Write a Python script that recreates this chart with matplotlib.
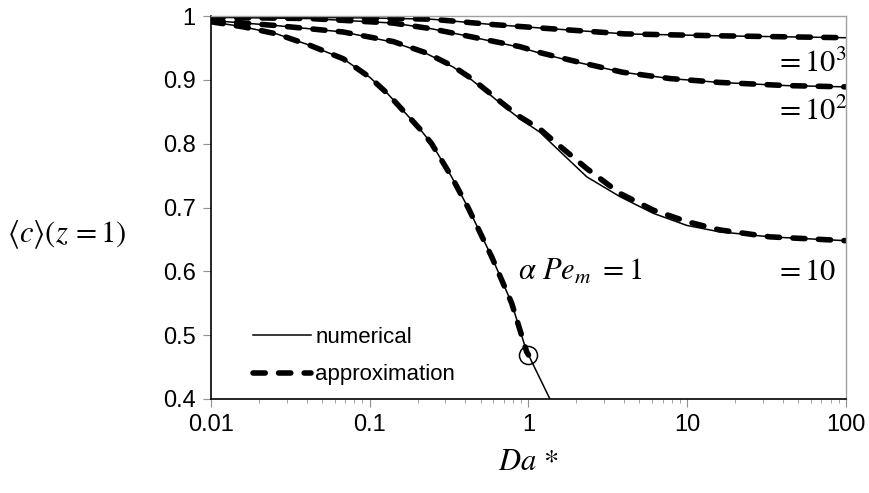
import matplotlib
matplotlib.use("Agg")
import matplotlib.pyplot as plt

plt.rcParams['font.family'] = ['Liberation Sans', 'DejaVu Sans']
plt.rcParams['mathtext.fontset'] = 'stix'

# Da* values and <c>(z=1), one set per alpha*Pe_m
da_pe1 = [0.01, 0.016, 0.0259, 0.0421, 0.0681, 0.1, 0.13, 0.184, 0.207, 0.2455,
          0.328, 0.418, 0.586, 0.784, 0.974, 1.0]
c_pe1_num = [0.991, 0.983, 0.972, 0.954, 0.933, 0.904, 0.878, 0.837, 0.823, 0.800,
             0.748, 0.699, 0.623, 0.550, 0.474, 0.469]
c_pe1_app = [0.991, 0.983, 0.972, 0.954, 0.933, 0.904, 0.878, 0.837, 0.823, 0.800,
             0.748, 0.699, 0.623, 0.550, 0.474, 0.469]
# numerical solution for alpha*Pe_m = 1 carries on below the circle
da_pe1_tail = [1.0, 1.365]
c_pe1_tail = [0.469, 0.400]

da_pe10 = [0.01, 0.0259, 0.068, 0.1406, 0.2285, 0.336, 0.438, 0.546, 0.712, 0.884,
           1.18, 1.43, 2.33, 3.77, 6.1, 9.92, 15.9, 33.2, 100]
c_pe10_num = [0.993, 0.985, 0.975, 0.959, 0.941, 0.920, 0.900, 0.881, 0.857, 0.839,
              0.818, 0.798, 0.748, 0.717, 0.691, 0.672, 0.662, 0.654, 0.648]
c_pe10_app = [0.993, 0.985, 0.975, 0.960, 0.942, 0.921, 0.902, 0.883, 0.860, 0.842,
              0.823, 0.805, 0.761, 0.722, 0.696, 0.678, 0.665, 0.654, 0.648]

da_pe100 = [0.01, 0.0421, 0.14, 0.2455, 0.388, 0.884, 1.21, 1.826, 3.9, 7.8, 15.9, 42.3, 100]
c_pe100_num = [0.998, 0.996, 0.989, 0.980, 0.970, 0.951, 0.941, 0.930, 0.912, 0.902,
               0.896, 0.891, 0.889]
c_pe100_app = [0.998, 0.996, 0.989, 0.980, 0.970, 0.952, 0.942, 0.931, 0.912, 0.902,
               0.896, 0.891, 0.889]

da_pe1000 = [0.01, 0.1, 0.2455, 0.572, 1.23, 4.06, 15.9, 100]
c_pe1000_num = [0.999, 0.997, 0.995, 0.987, 0.981, 0.972, 0.969, 0.966]
c_pe1000_app = [0.999, 0.997, 0.995, 0.987, 0.981, 0.972, 0.969, 0.966]

fig = plt.figure(figsize=(8.69, 4.93), dpi=100)
ax = fig.add_axes([0.2428, 0.1907, 0.7307, 0.7768])

dash_kw = dict(color='black', lw=4.0, dashes=(2.2, 2.4), dash_capstyle='round')
num_kw = dict(color='black', lw=1.1)

curves = [(da_pe1, c_pe1_num, c_pe1_app),
          (da_pe10, c_pe10_num, c_pe10_app),
          (da_pe100, c_pe100_num, c_pe100_app),
          (da_pe1000, c_pe1000_num, c_pe1000_app)]

for i, (da, cn, ca) in enumerate(curves):
    ax.plot(da, cn, label='numerical' if i == 0 else None, **num_kw)
    ax.plot(da, ca, label='approximation' if i == 0 else None, **dash_kw)
ax.plot(da_pe1_tail, c_pe1_tail, **num_kw)

# where the approximation for alpha*Pe_m = 1 stops
ax.plot([da_pe1[-1]], [c_pe1_app[-1]], marker='o', ms=13, mfc='none', mec='black', mew=1.1)

ax.set_xscale('log')
ax.set_xlim(0.01, 100)
ax.set_ylim(0.4, 1.0)
ax.set_xticks([0.01, 0.1, 1, 10, 100])
ax.set_xticklabels(['0.01', '0.1', '1', '10', '100'])
ax.set_yticks([0.4, 0.5, 0.6, 0.7, 0.8, 0.9, 1.0])
ax.set_yticklabels(['0.4', '0.5', '0.6', '0.7', '0.8', '0.9', '1'])
ax.tick_params(axis='both', which='major', labelsize=17, color='#909090', length=6,
               direction='out', pad=5)
ax.tick_params(axis='x', which='minor', color='#909090', length=3, direction='out')

for s in ['top', 'right']:
    ax.spines[s].set_color('#a0a0a0')
    ax.spines[s].set_linewidth(1.0)
for s in ['left', 'bottom']:
    ax.spines[s].set_color('black')
    ax.spines[s].set_linewidth(1.2)

ax.set_xlabel(r'$Da\,*$', fontsize=22, labelpad=8)
ax.set_ylabel(r'$\langle c\rangle(z\,=1)$', fontsize=22, rotation=0, ha='center', va='center')
ax.yaxis.set_label_coords(-0.227, 0.428)

txt = dict(fontsize=22, ha='left', va='baseline')
ax.text(0.86, 0.586, r'$\alpha\ Pe_m\ =1$', **txt)
ax.text(35.7, 0.586, r'$=10$', **txt)
ax.text(35.7, 0.837, r'$=10^2$', **txt)
ax.text(35.7, 0.912, r'$=10^3$', **txt)

ax.legend(loc='center left', bbox_to_anchor=(0.066, 0.112), frameon=False, fontsize=16,
          handlelength=2.6, handletextpad=0.2, labelspacing=0.75, borderpad=0,
          borderaxespad=0)

fig.savefig('out.png', dpi=100)
